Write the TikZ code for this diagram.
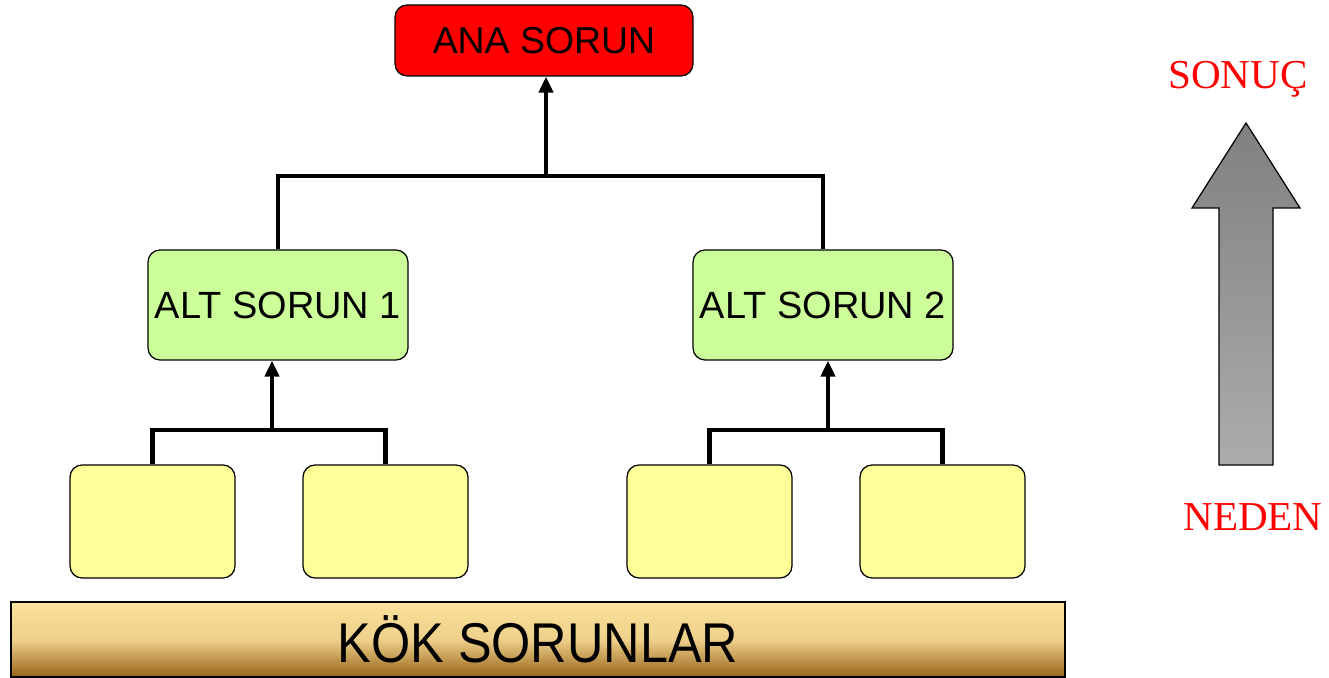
\documentclass[tikz,border=0pt]{standalone}
\usepackage{fontspec}
\usepackage{graphicx}
\setmainfont{Liberation Sans}
\newfontfamily\sideserif{Liberation Serif}
\usetikzlibrary{arrows.meta}
\definecolor{anared}{RGB}{255,0,0}
\definecolor{altgreen}{RGB}{204,255,153}
\definecolor{kokyellow}{RGB}{255,255,153}
\definecolor{bartop}{RGB}{251,226,154}
\definecolor{barmid}{RGB}{238,208,138}
\definecolor{barbot}{RGB}{152,100,26}
\definecolor{arrowdark}{RGB}{128,128,128}
\definecolor{arrowlight}{RGB}{172,172,172}
\tikzset{
  box/.style={draw,line width=0.7pt,rounded corners=0.24cm,inner sep=0pt},
  anabox/.style={box,fill=anared,minimum width=5.96cm,minimum height=1.42cm,font=\fontsize{21.3pt}{25pt}\selectfont},
  altbox/.style={box,fill=altgreen,minimum width=5.2cm,minimum height=2.2cm,font=\fontsize{21.6pt}{25pt}\selectfont},
  kokbox/.style={box,fill=kokyellow,minimum width=3.3cm,minimum height=2.26cm},
  rootbar/.style={draw,line width=0.7pt,top color=bartop,bottom color=barbot,middle color=barmid,minimum width=21.08cm,minimum height=1.5cm,inner sep=0pt,font=\fontsize{31.9pt}{36pt}\selectfont},
  link/.style={line width=2.3pt},
  uplink/.style={link,-{Triangle[width=0.28cm,length=0.32cm]}},
  sidelabel/.style={text=red,anchor=base,font=\sideserif\fontsize{23.4pt}{27pt}\selectfont}
}
\begin{document}
\begin{tikzpicture}[x=0.02cm,y=-0.02cm]
\useasboundingbox (0,0) rectangle (1329,678);
\node[anabox] (ana) at (544,40.5) {ANA SORUN};
\node[altbox] (alt1) at (278,305) {ALT SORUN 1};
\node[altbox] (alt2) at (823,305) {ALT SORUN 2};
\node[kokbox] (k1) at (152.5,521.5) {};
\node[kokbox] (k2) at (385.5,521.5) {};
\node[kokbox] (k3) at (709.5,521.5) {};
\node[kokbox] (k4) at (942.5,521.5) {};
\node[rootbar] (kok) at (538,639.5) {\scalebox{0.9}[1]{KÖK SORUNLAR}};
\coordinate (topbar) at (546,176);
\coordinate (bar1) at (272,430);
\coordinate (bar2) at (828,430);
\draw[link] (alt1.north) |- (topbar) -| (alt2.north);
\draw[uplink] (topbar) -- (topbar |- ana.south);
\draw[link] (k1.north) |- (bar1) -| (k2.north);
\draw[uplink] (bar1) -- (bar1 |- alt1.south);
\draw[link] (k3.north) |- (bar2) -| (k4.north);
\draw[uplink] (bar2) -- (bar2 |- alt2.south);
\shade[draw,line width=0.7pt,top color=arrowdark,bottom color=arrowlight]
  (1219,465) -- (1219,208) -- (1192,208) -- (1246,123) -- (1300,208) -- (1273,208) -- (1273,465) -- cycle;
\node[sidelabel] (sonuc) at (1238,89) {SONUÇ};
\node[sidelabel] (neden) at (1253,531) {NEDEN};
\end{tikzpicture}
\end{document}
